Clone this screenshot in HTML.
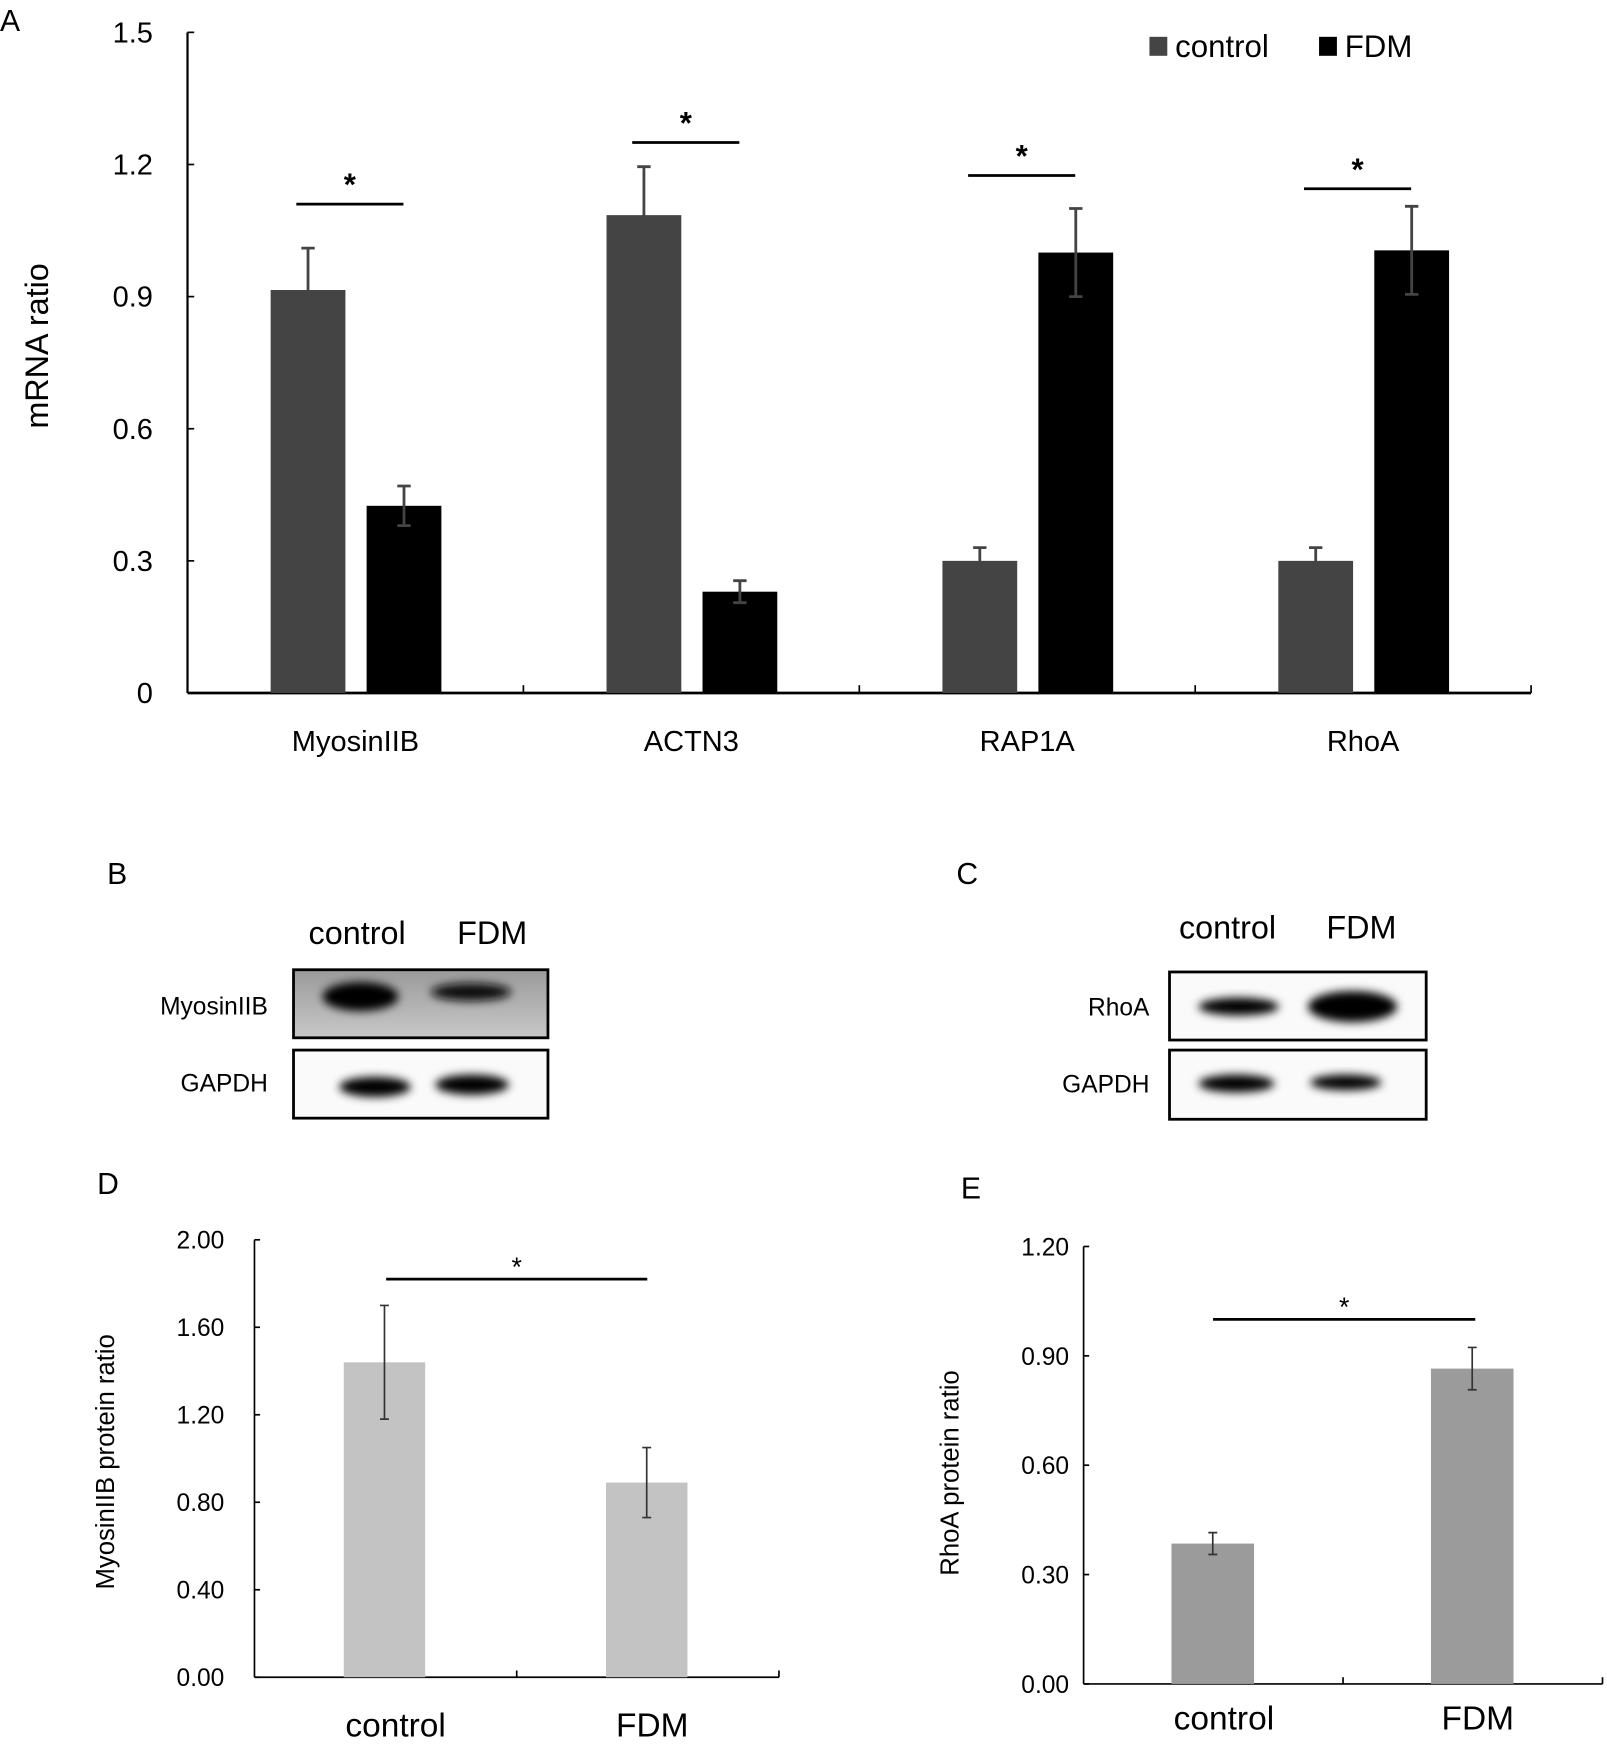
<!DOCTYPE html>
<html><head><meta charset="utf-8"><style>
html,body{margin:0;padding:0;background:#fff}
svg{display:block}
text{font-family:"Liberation Sans",sans-serif}
</style></head><body>
<svg id="fig" width="1607" height="1752" viewBox="0 0 1440 1570" xmlns="http://www.w3.org/2000/svg">
<defs>
<filter id="blur" x="-50%" y="-50%" width="200%" height="200%"><feGaussianBlur stdDeviation="4"/></filter>
<linearGradient id="myoBg" x1="0" x2="0" y1="0" y2="1"><stop offset="0" stop-color="#9a9a9a"/><stop offset="1" stop-color="#c8c8c8"/></linearGradient>
</defs>
<g id="panelA"></g>
<g id="panelB">
<text x="96" y="792" font-size="27">B</text>
<text x="320" y="846" font-size="29" text-anchor="middle">control</text>
<text x="441" y="846" font-size="29" text-anchor="middle">FDM</text>
<text x="240" y="909" font-size="22" text-anchor="end">MyosinIIB</text>
<text x="240" y="978" font-size="22" text-anchor="end">GAPDH</text>
<rect x="263" y="869" width="228" height="61" fill="url(#myoBg)" stroke="#000" stroke-width="2.5"/>
<ellipse cx="323" cy="893" rx="34" ry="13" fill="#000" filter="url(#blur)"/>
<ellipse cx="422" cy="889" rx="36" ry="8" fill="#111" filter="url(#blur)"/>
<rect x="263" y="941" width="228" height="61" fill="#fafafa" stroke="#000" stroke-width="2.5"/>
<ellipse cx="336" cy="974" rx="32" ry="9" fill="#000" filter="url(#blur)"/>
<ellipse cx="423" cy="972" rx="33" ry="9" fill="#000" filter="url(#blur)"/>
</g>
<g id="panelC">
<text x="857" y="792" font-size="27">C</text>
<text x="1100" y="841" font-size="29" text-anchor="middle">control</text>
<text x="1220" y="841" font-size="29" text-anchor="middle">FDM</text>
<text x="1030" y="910" font-size="22" text-anchor="end">RhoA</text>
<text x="1030" y="979" font-size="22" text-anchor="end">GAPDH</text>
<rect x="1048" y="871" width="230" height="61" fill="#fafafa" stroke="#000" stroke-width="2.5"/>
<ellipse cx="1110" cy="902" rx="36" ry="8" fill="#000" filter="url(#blur)"/>
<ellipse cx="1212" cy="902" rx="40" ry="14" fill="#000" filter="url(#blur)"/>
<rect x="1048" y="941" width="230" height="62" fill="#fafafa" stroke="#000" stroke-width="2.5"/>
<ellipse cx="1108" cy="971" rx="34" ry="8" fill="#000" filter="url(#blur)"/>
<ellipse cx="1206" cy="970" rx="32" ry="7" fill="#000" filter="url(#blur)"/>
</g>
<g id="panelD"></g>
<g id="panelE"></g>
</svg>
<script>
// Panel A data
const catsA = ["MyosinIIB","ACTN3","RAP1A","RhoA"];
const ctrlA = [0.915,1.085,0.30,0.30];
const ctrlErrA = [0.095,0.11,0.03,0.03];
const fdmA = [0.425,0.23,1.0,1.005];
const fdmErrA = [0.045,0.025,0.1,0.1];
const sigA = [1.11,1.25,1.175,1.145];
const ticksA = [0,0.3,0.6,0.9,1.2,1.5];
const tickLabelsA = ["0","0.3","0.6","0.9","1.2","1.5"];
// Panel D data
const catsD = ["control","FDM"];
const valD = [1.44,0.89];
const errD = [0.26,0.16];
const ticksD = [0,0.4,0.8,1.2,1.6,2.0];
const tickLabelsD = ["0.00","0.40","0.80","1.20","1.60","2.00"];
// Panel E data
const catsE = ["control","FDM"];
const valE = [0.385,0.865];
const errE = [0.03,0.058];
const ticksE = [0,0.3,0.6,0.9,1.2];
const tickLabelsE = ["0.00","0.30","0.60","0.90","1.20"];

const NS="http://www.w3.org/2000/svg";
function mk(parent,tag,attrs,txt){const e=document.createElementNS(NS,tag);for(const k in attrs)e.setAttribute(k,attrs[k]);if(txt!==undefined)e.textContent=txt;parent.appendChild(e);return e;}

// ---- Panel A ----
(function(){
const g=document.getElementById('panelA');
const x0=168,x1=1372,y0=621,yTop=29,max=1.5;
const y=v=>y0-(v/max)*(y0-yTop);
const cw=(x1-x0)/catsA.length;
let t;
t=mk(g,'text',{x:0,y:28,'font-size':27},'A');


t=mk(g,'line',{x1:x0,y1:yTop,x2:x0,y2:y0,stroke:'#000','stroke-width':2});


t=mk(g,'line',{x1:x0,y1:y0,x2:x1,y2:y0,stroke:'#000','stroke-width':2.5});


ticksA.forEach((v,i)=>{
 let e=mk(g,'line',{x1:x0,y1:y(v),x2:x0+6,y2:y(v),stroke:'#000','stroke-width':1.5});
 
 
 e=mk(g,'text',{x:137,y:y(v)+9,'font-size':26,'text-anchor':'end'},tickLabelsA[i]);
 
 
});
for(let i=1;i<=catsA.length;i++){
 const e=mk(g,'line',{x1:x0+cw*i,y1:y0,x2:x0+cw*i,y2:y0-7,stroke:'#000','stroke-width':1.5});
 
 
}
t=mk(g,'text',{x:0,y:0,'font-size':29,'text-anchor':'middle',transform:'translate(43,310) rotate(-90)'},'mRNA ratio');


const bw=67;
catsA.forEach((c,i)=>{
 const cx=x0+cw*i+cw/2;
 const xc=cx-76, xf=cx+10;
 let e=mk(g,'rect',{x:xc,y:y(ctrlA[i]),width:bw,height:y0-y(ctrlA[i]),fill:'#444'});
 
 
 e=mk(g,'rect',{x:xf,y:y(fdmA[i]),width:bw,height:y0-y(fdmA[i]),fill:'#000'});
 
 
 [[xc+bw/2,ctrlA[i],ctrlErrA[i]],[xf+bw/2,fdmA[i],fdmErrA[i]]].forEach(([ex,v,er])=>{
  const p=mk(g,'path',{d:`M${ex},${y(v+er)}V${y(v-er)}M${ex-6},${y(v+er)}H${ex+6}M${ex-6},${y(v-er)}H${ex+6}`,stroke:'#444','stroke-width':2.5,fill:'none'});
  
  
 });
 e=mk(g,'line',{x1:cx-53,y1:y(sigA[i]),x2:cx+43,y2:y(sigA[i]),stroke:'#000','stroke-width':2.5});
 
 
 e=mk(g,'text',{x:cx-5,y:y(sigA[i])-8,'font-size':28,'font-weight':'bold','text-anchor':'middle'},'*');
 
 
 e=mk(g,'text',{x:cx,y:673,'font-size':26,'text-anchor':'middle'},c);
 
 
});
t=mk(g,'rect',{x:1030,y:33,width:16,height:17,fill:'#444'});


t=mk(g,'text',{x:1053,y:51,'font-size':28},'control');


t=mk(g,'rect',{x:1182,y:33,width:16,height:17,fill:'#000'});


t=mk(g,'text',{x:1205,y:51,'font-size':28},'FDM');


})();

// ---- Panels D and E ----
function protein(id,cfg){
 const g=document.getElementById(id);
 const {x0,x1,y0,yTop,max,cats,vals,errs,ticks,labels,color,sig,sigX1,sigX2,label,lx,ly,title,tx,ty,barX,bw,catY,tickX}=cfg;
 const y=v=>y0-(v/max)*(y0-yTop);
 let t=mk(g,'text',{x:lx,y:ly,'font-size':27},label);
 
 
 t=mk(g,'line',{x1:x0,y1:yTop,x2:x0,y2:y0,stroke:'#000','stroke-width':1.5});
 
 
 t=mk(g,'line',{x1:x0,y1:y0,x2:x1,y2:y0,stroke:'#000','stroke-width':1.5});
 
 
 [(x0+x1)/2,x1].forEach(xx=>{
  const e=mk(g,'line',{x1:xx,y1:y0,x2:xx,y2:y0-6,stroke:'#000','stroke-width':1.5});
  
  
 });
 ticks.forEach((v,i)=>{
  let e=mk(g,'line',{x1:x0,y1:y(v),x2:x0+5,y2:y(v),stroke:'#000','stroke-width':1.5});
  
  
  e=mk(g,'text',{x:tickX,y:y(v)+8,'font-size':22,'text-anchor':'end'},labels[i]);
  
  
 });
 t=mk(g,'text',{x:0,y:0,'font-size':23,'text-anchor':'middle',transform:`translate(${tx},${ty}) rotate(-90)`},title);
 
 
 const cw=(x1-x0)/cats.length;
 cats.forEach((c,i)=>{
  const cx=x0+cw*i+cw/2+barX;
  let e=mk(g,'rect',{x:cx-bw/2,y:y(vals[i]),width:bw,height:y0-y(vals[i]),fill:color});
  
  
  const hi=y(vals[i]+errs[i]),lo=y(vals[i]-errs[i]);
  e=mk(g,'path',{d:`M${cx},${hi}V${lo}M${cx-4},${hi}H${cx+4}M${cx-4},${lo}H${cx+4}`,stroke:'#333','stroke-width':1.5,fill:'none'});
  
  
  e=mk(g,'text',{x:cx+(i?5:10),y:catY,'font-size':30,'text-anchor':'middle'},c);
  
  
 });
 t=mk(g,'line',{x1:sigX1,y1:y(sig),x2:sigX2,y2:y(sig),stroke:'#000','stroke-width':2.5});
 
 
 t=mk(g,'text',{x:(sigX1+sigX2)/2,y:y(sig)-3,'font-size':24,'text-anchor':'middle'},'*');
 
 
}
protein('panelD',{x0:228,x1:698,y0:1503,yTop:1111,max:2.0,cats:catsD,vals:valD,errs:errD,ticks:ticksD,labels:tickLabelsD,color:'#c3c3c3',sig:1.82,sigX1:346,sigX2:580,label:'D',lx:87,ly:1070,title:'MyosinIIB protein ratio',tx:102,ty:1310,barX:-1,bw:73,catY:1556,tickX:201});
protein('panelE',{x0:971,x1:1436,y0:1509,yTop:1117,max:1.2,cats:catsE,vals:valE,errs:errE,ticks:ticksE,labels:tickLabelsE,color:'#9b9b9b',sig:1.0,sigX1:1087,sigX2:1322,label:'E',lx:861,ly:1074,title:'RhoA protein ratio',tx:859,ty:1320,barX:-0.5,bw:74,catY:1550,tickX:958});
</script>
</body></html>
